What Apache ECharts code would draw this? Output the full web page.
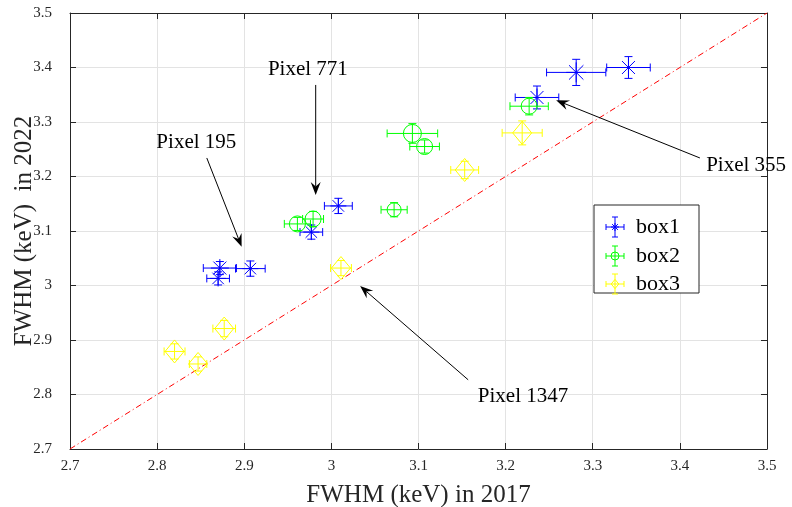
<!DOCTYPE html>
<html>
<head>
<meta charset="utf-8">
<script src="https://cdn.jsdelivr.net/npm/echarts@6/dist/echarts.min.js"></script>
<style>
  html, body { margin: 0; padding: 0; background: #fff; }
  #chart { width: 792px; height: 507px; }
</style>
</head>
<body>
<div id="chart"></div>
<script>
// each point: [x2017, y2022, xErr, yErr, markerSize]
var box1 = [
  [2.872, 3.032, 0.019, 0.012, 9],
  [2.870, 3.013, 0.013, 0.012, 8],
  [2.907, 3.031, 0.017, 0.014, 8],
  [3.008, 3.146, 0.016, 0.014, 8],
  [2.977, 3.098, 0.013, 0.013, 8],
  [3.281, 3.391, 0.034, 0.024, 10],
  [3.341, 3.400, 0.025, 0.020, 9],
  [3.236, 3.345, 0.025, 0.021, 9]
];
var box2 = [
  [2.961, 3.113, 0.015, 0.012, 8],
  [2.979, 3.122, 0.012, 0.014, 8],
  [3.072, 3.139, 0.015, 0.013, 7],
  [3.093, 3.279, 0.029, 0.018, 9],
  [3.107, 3.255, 0.017, 0.012, 8],
  [3.227, 3.329, 0.022, 0.016, 8]
];
var box3 = [
  [3.011, 3.032, 0.012, 0.014, 10],
  [3.153, 3.212, 0.016, 0.016, 10],
  [3.219, 3.280, 0.023, 0.022, 10],
  [2.877, 2.921, 0.013, 0.015, 10],
  [2.820, 2.879, 0.012, 0.014, 10],
  [2.847, 2.856, 0.010, 0.013, 10]
];
// annotations: [text, textX, textY, fromX, fromY, toX, toY]
var notes = [
  ['Pixel 771', 2.973, 3.396, 2.982, 3.368, 2.982, 3.166],
  ['Pixel 195', 2.845, 3.262, 2.857, 3.234, 2.897, 3.071],
  ['Pixel 355', 3.476, 3.221, 3.423, 3.234, 3.258, 3.340],
  ['Pixel 1347', 3.220, 2.796, 3.157, 2.827, 3.033, 2.999]
];
var diag = [[2.7, 2.7], [3.5, 3.5]];

var serif = '"Liberation Serif", "DejaVu Serif", serif';
var colors = { box1: '#0000ff', box2: '#00ff00', box3: '#ffff00' };

function markerShapes(kind, cx, cy, s, color) {
  var st = { stroke: color, lineWidth: 1, fill: null };
  var out = [];
  if (kind === 'star') {
    var d = s * 0.72;
    out.push({ type: 'line', shape: { x1: cx - s, y1: cy, x2: cx + s, y2: cy }, style: st });
    out.push({ type: 'line', shape: { x1: cx, y1: cy - s, x2: cx, y2: cy + s }, style: st });
    out.push({ type: 'line', shape: { x1: cx - d, y1: cy - d, x2: cx + d, y2: cy + d }, style: st });
    out.push({ type: 'line', shape: { x1: cx - d, y1: cy + d, x2: cx + d, y2: cy - d }, style: st });
  } else if (kind === 'circle') {
    out.push({ type: 'circle', shape: { cx: cx, cy: cy, r: s }, style: st });
  } else {
    out.push({ type: 'polygon', shape: { points: [[cx, cy - s * 1.15], [cx + s * 0.95, cy], [cx, cy + s * 1.15], [cx - s * 0.95, cy]] }, style: st });
  }
  return out;
}

function errSeries(name, data, kind) {
  var color = colors[name];
  return {
    name: name,
    type: 'custom',
    data: data,
    encode: { x: 0, y: 1 },
    z: 5,
    renderItem: function (params, api) {
      var x = api.value(0), y = api.value(1), ex = api.value(2), ey = api.value(3), s = api.value(4);
      var c = api.coord([x, y]);
      var l = api.coord([x - ex, y]), r = api.coord([x + ex, y]);
      var t = api.coord([x, y + ey]), b = api.coord([x, y - ey]);
      var st = { stroke: color, lineWidth: 1 };
      var cap = 4;
      var kids = [
        { type: 'line', shape: { x1: l[0], y1: c[1], x2: r[0], y2: c[1] }, style: st },
        { type: 'line', shape: { x1: l[0], y1: c[1] - cap, x2: l[0], y2: c[1] + cap }, style: st },
        { type: 'line', shape: { x1: r[0], y1: c[1] - cap, x2: r[0], y2: c[1] + cap }, style: st },
        { type: 'line', shape: { x1: c[0], y1: t[1], x2: c[0], y2: b[1] }, style: st },
        { type: 'line', shape: { x1: c[0] - cap, y1: t[1], x2: c[0] + cap, y2: t[1] }, style: st },
        { type: 'line', shape: { x1: c[0] - cap, y1: b[1], x2: c[0] + cap, y2: b[1] }, style: st }
      ];
      return { type: 'group', children: kids.concat(markerShapes(kind, c[0], c[1], s, color)) };
    }
  };
}

function arrowItem(params, api) {
  var p = api.coord([api.value(1), api.value(2)]);
  var a = api.coord([api.value(3), api.value(4)]);
  var b = api.coord([api.value(5), api.value(6)]);
  var ang = Math.atan2(b[1] - a[1], b[0] - a[0]);
  var len = 13, w = 5;
  var ux = Math.cos(ang), uy = Math.sin(ang);
  var bx = b[0] - ux * len, by = b[1] - uy * len;
  var nx = b[0] - ux * len * 0.65, ny = b[1] - uy * len * 0.65;
  return {
    type: 'group',
    children: [
      { type: 'line', shape: { x1: a[0], y1: a[1], x2: nx, y2: ny }, style: { stroke: '#000', lineWidth: 1 } },
      { type: 'polygon', shape: { points: [[b[0], b[1]], [bx - uy * w, by + ux * w], [nx, ny], [bx + uy * w, by - ux * w]] }, style: { fill: '#000' } },
      { type: 'text', x: p[0], y: p[1], style: { text: api.value(0), font: '21px ' + serif, fill: '#000', align: 'center', verticalAlign: 'middle' } }
    ]
  };
}

function axisOpts(pos, name, showLabels) {
  return {
    type: 'value', position: pos, min: 2.7, max: 3.5, interval: 0.1,
    name: name, nameLocation: 'middle', nameMoveOverlap: false,
    nameGap: pos === 'bottom' ? 34 : 33,
    nameTextStyle: { fontFamily: serif, fontSize: 25, color: '#262626' },
    axisLine: { show: true, onZero: false, lineStyle: { color: '#262626', width: 1 } },
    axisTick: { show: true, inside: true, length: 6, lineStyle: { color: '#262626' } },
    axisLabel: { show: showLabels, fontFamily: serif, fontSize: 15, color: '#262626', margin: pos === 'left' ? 18 : 10 },
    splitLine: { show: showLabels, lineStyle: { color: '#e3e3e3', width: 1 } }
  };
}

var chart = echarts.init(document.getElementById('chart'));

var legendY = [227, 256, 284];
var legendGraphic = [{
  type: 'rect', shape: { x: 594, y: 205, width: 105, height: 88 },
  style: { fill: '#fff', stroke: '#262626', lineWidth: 1 }, z: 100
}];
[['box1', 'star'], ['box2', 'circle'], ['box3', 'diamond']].forEach(function (e, i) {
  var cx = 615, cy = legendY[i], col = colors[e[0]], st = { stroke: col, lineWidth: 1 };
  var parts = [
    { type: 'line', shape: { x1: cx - 9, y1: cy, x2: cx + 9, y2: cy }, style: st },
    { type: 'line', shape: { x1: cx - 9, y1: cy - 3, x2: cx - 9, y2: cy + 3 }, style: st },
    { type: 'line', shape: { x1: cx + 9, y1: cy - 3, x2: cx + 9, y2: cy + 3 }, style: st },
    { type: 'line', shape: { x1: cx, y1: cy - 10, x2: cx, y2: cy + 10 }, style: st },
    { type: 'line', shape: { x1: cx - 3, y1: cy - 10, x2: cx + 3, y2: cy - 10 }, style: st },
    { type: 'line', shape: { x1: cx - 3, y1: cy + 10, x2: cx + 3, y2: cy + 10 }, style: st }
  ].concat(markerShapes(e[1], cx, cy, 4, col));
  parts.forEach(function (p) { p.z = 101; legendGraphic.push(p); });
  legendGraphic.push({
    type: 'text', x: 636, y: cy, z: 101,
    style: { text: e[0], font: '22px ' + serif, fill: '#000', verticalAlign: 'middle' }
  });
});

chart.setOption({
  animation: false,
  backgroundColor: '#fff',
  grid: { left: 70, right: 25, top: 13, bottom: 58, show: false, containLabel: false, outerBoundsMode: 'none' },
  xAxis: [axisOpts('bottom', 'FWHM (keV) in 2017', true), axisOpts('top', '', false)],
  yAxis: [axisOpts('left', 'FWHM (keV)  in 2022', true), axisOpts('right', '', false)],
  graphic: legendGraphic,
  series: [
    {
      type: 'line', data: diag, symbol: 'none', z: 3,
      lineStyle: { color: '#ff0000', width: 1, type: [6, 3, 1, 3] }
    },
    errSeries('box1', box1, 'star'),
    errSeries('box2', box2, 'circle'),
    errSeries('box3', box3, 'diamond'),
    { type: 'custom', data: notes, renderItem: arrowItem, z: 10, encode: { x: 1, y: 2 } }
  ]
});
</script>
</body>
</html>
